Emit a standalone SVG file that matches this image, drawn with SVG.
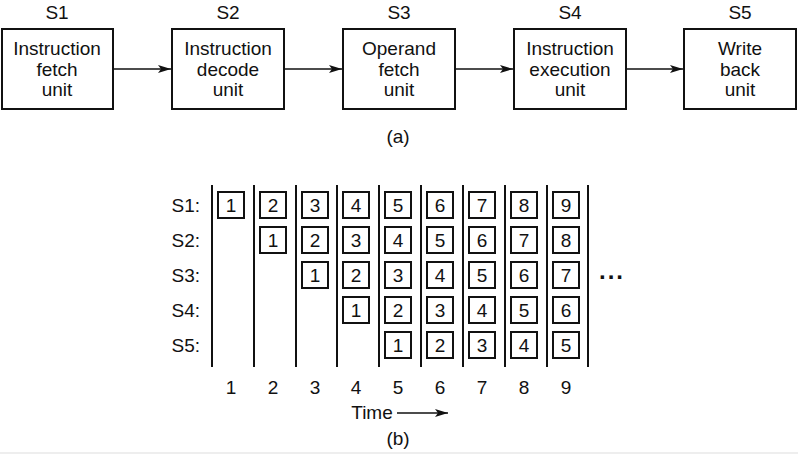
<svg xmlns="http://www.w3.org/2000/svg" width="798" height="454" viewBox="0 0 798 454">
<defs>
<style>
text{font-family:"Liberation Sans",Arial,sans-serif;font-size:19px;fill:#111;text-anchor:middle}
.box{fill:#fff;stroke:#111;stroke-width:2}
.sb{fill:#fff;stroke:#111;stroke-width:2}
.ln{stroke:#111;stroke-width:2;fill:none}
.conn{stroke:#111;stroke-width:1.7;fill:none;marker-end:url(#ah)}
.rl{text-anchor:end}
</style>
<marker id="ah" viewBox="0 0 13 8" refX="13" refY="4" markerWidth="13" markerHeight="8" markerUnits="userSpaceOnUse" orient="auto">
<path d="M0,0 L13,4 L0,8 L3,4 Z" fill="#111"/>
</marker>
</defs>
<rect width="798" height="454" fill="#fff"/>
<rect x="0" y="452" width="798" height="2" fill="#eee"/>
<g id="stage1"><text x="57" y="19">S1</text><rect class="box" x="2" y="29" width="111" height="80"/><text x="57" y="55">Instruction</text><text x="57" y="76">fetch</text><text x="57" y="96">unit</text></g>
<g id="stage2"><text x="228" y="19">S2</text><rect class="box" x="172" y="29" width="112" height="80"/><text x="228" y="55">Instruction</text><text x="228" y="76">decode</text><text x="228" y="96">unit</text></g>
<g id="stage3"><text x="399" y="19">S3</text><rect class="box" x="343" y="29" width="112" height="80"/><text x="399" y="55">Operand</text><text x="399" y="76">fetch</text><text x="399" y="96">unit</text></g>
<g id="stage4"><text x="570" y="19">S4</text><rect class="box" x="514" y="29" width="112" height="80"/><text x="570" y="55">Instruction</text><text x="570" y="76">execution</text><text x="570" y="96">unit</text></g>
<g id="stage5"><text x="740" y="19">S5</text><rect class="box" x="684" y="29" width="112" height="80"/><text x="740" y="55">Write</text><text x="740" y="76">back</text><text x="740" y="96">unit</text></g>
<g id="connectors">
<line class="conn" x1="113" y1="69" x2="171" y2="69"/>
<line class="conn" x1="284" y1="69" x2="342" y2="69"/>
<line class="conn" x1="455" y1="69" x2="513" y2="69"/>
<line class="conn" x1="626" y1="69" x2="683" y2="69"/>
<line class="conn" x1="397" y1="413" x2="448" y2="413"/>
</g>
<text x="398" y="143">(a)</text>
<g id="timeline">
<g class="ln">
<line x1="212" y1="185" x2="212" y2="367"/><line x1="254" y1="185" x2="254" y2="367"/><line x1="296" y1="185" x2="296" y2="367"/><line x1="337" y1="185" x2="337" y2="367"/><line x1="379" y1="185" x2="379" y2="367"/><line x1="421" y1="185" x2="421" y2="367"/><line x1="463" y1="185" x2="463" y2="367"/><line x1="505" y1="185" x2="505" y2="367"/><line x1="547" y1="185" x2="547" y2="367"/><line x1="588" y1="185" x2="588" y2="367"/>
</g>
<text class="rl" x="200" y="212">S1:</text><text class="rl" x="200" y="247">S2:</text><text class="rl" x="200" y="282">S3:</text><text class="rl" x="200" y="317">S4:</text><text class="rl" x="200" y="352">S5:</text>
</g>
<g id="cells">
<rect class="sb" x="218" y="192" width="26" height="26"/><text x="231" y="212">1</text>
<rect class="sb" x="260" y="192" width="26" height="26"/><text x="273" y="212">2</text>
<rect class="sb" x="302" y="192" width="26" height="26"/><text x="315" y="212">3</text>
<rect class="sb" x="343" y="192" width="26" height="26"/><text x="356" y="212">4</text>
<rect class="sb" x="385" y="192" width="26" height="26"/><text x="398" y="212">5</text>
<rect class="sb" x="427" y="192" width="26" height="26"/><text x="440" y="212">6</text>
<rect class="sb" x="469" y="192" width="26" height="26"/><text x="482" y="212">7</text>
<rect class="sb" x="511" y="192" width="26" height="26"/><text x="524" y="212">8</text>
<rect class="sb" x="553" y="192" width="26" height="26"/><text x="566" y="212">9</text>
<rect class="sb" x="260" y="227" width="26" height="26"/><text x="273" y="247">1</text>
<rect class="sb" x="302" y="227" width="26" height="26"/><text x="315" y="247">2</text>
<rect class="sb" x="343" y="227" width="26" height="26"/><text x="356" y="247">3</text>
<rect class="sb" x="385" y="227" width="26" height="26"/><text x="398" y="247">4</text>
<rect class="sb" x="427" y="227" width="26" height="26"/><text x="440" y="247">5</text>
<rect class="sb" x="469" y="227" width="26" height="26"/><text x="482" y="247">6</text>
<rect class="sb" x="511" y="227" width="26" height="26"/><text x="524" y="247">7</text>
<rect class="sb" x="553" y="227" width="26" height="26"/><text x="566" y="247">8</text>
<rect class="sb" x="302" y="262" width="26" height="26"/><text x="315" y="282">1</text>
<rect class="sb" x="343" y="262" width="26" height="26"/><text x="356" y="282">2</text>
<rect class="sb" x="385" y="262" width="26" height="26"/><text x="398" y="282">3</text>
<rect class="sb" x="427" y="262" width="26" height="26"/><text x="440" y="282">4</text>
<rect class="sb" x="469" y="262" width="26" height="26"/><text x="482" y="282">5</text>
<rect class="sb" x="511" y="262" width="26" height="26"/><text x="524" y="282">6</text>
<rect class="sb" x="553" y="262" width="26" height="26"/><text x="566" y="282">7</text>
<rect class="sb" x="343" y="297" width="26" height="26"/><text x="356" y="317">1</text>
<rect class="sb" x="385" y="297" width="26" height="26"/><text x="398" y="317">2</text>
<rect class="sb" x="427" y="297" width="26" height="26"/><text x="440" y="317">3</text>
<rect class="sb" x="469" y="297" width="26" height="26"/><text x="482" y="317">4</text>
<rect class="sb" x="511" y="297" width="26" height="26"/><text x="524" y="317">5</text>
<rect class="sb" x="553" y="297" width="26" height="26"/><text x="566" y="317">6</text>
<rect class="sb" x="385" y="332" width="26" height="26"/><text x="398" y="352">1</text>
<rect class="sb" x="427" y="332" width="26" height="26"/><text x="440" y="352">2</text>
<rect class="sb" x="469" y="332" width="26" height="26"/><text x="482" y="352">3</text>
<rect class="sb" x="511" y="332" width="26" height="26"/><text x="524" y="352">4</text>
<rect class="sb" x="553" y="332" width="26" height="26"/><text x="566" y="352">5</text>
</g>
<text x="612" y="279" style="font-size:24px;font-weight:bold;letter-spacing:2px">...</text>
<g id="axis">
<text x="231" y="394">1</text><text x="273" y="394">2</text><text x="315" y="394">3</text><text x="356" y="394">4</text><text x="398" y="394">5</text><text x="440" y="394">6</text><text x="482" y="394">7</text><text x="524" y="394">8</text><text x="566" y="394">9</text>
<text x="372" y="419">Time</text>
<text x="398" y="445">(b)</text>
</g>
</svg>
